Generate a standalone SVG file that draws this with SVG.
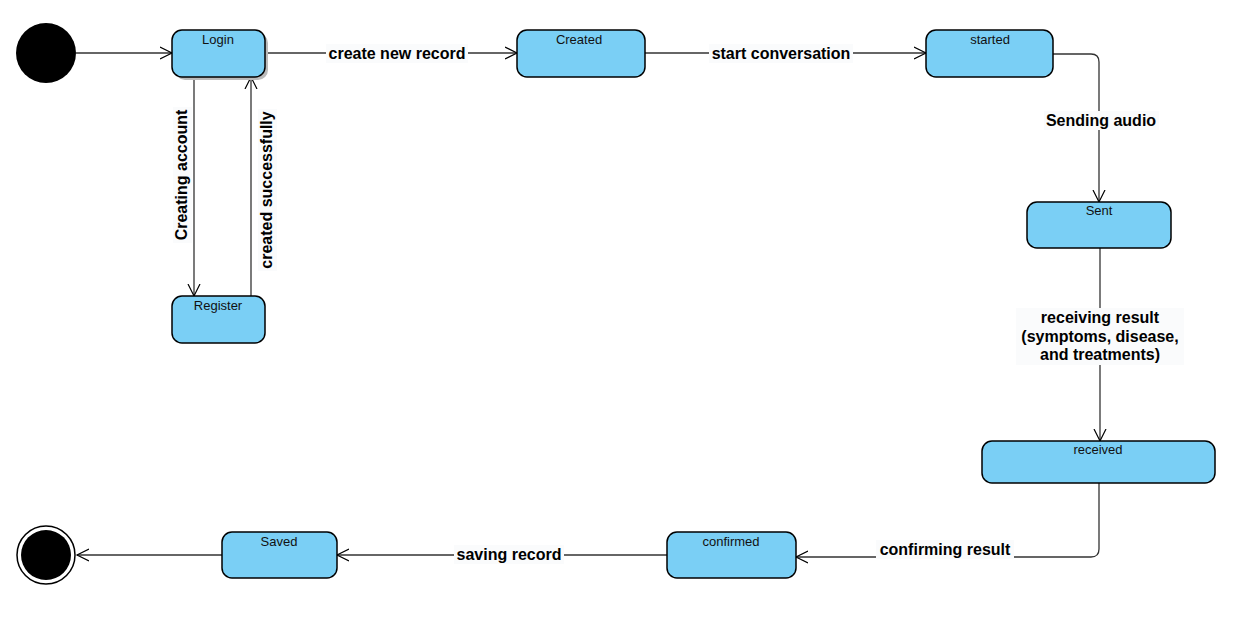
<svg xmlns="http://www.w3.org/2000/svg" width="1235" height="622" viewBox="0 0 1235 622">
<defs>
<marker id="arr" markerWidth="14" markerHeight="14" refX="12" refY="7" orient="auto" markerUnits="userSpaceOnUse">
<path d="M0,1 L12,7 L0,13" fill="none" stroke="#000" stroke-width="1.2"/>
</marker>
</defs>
<style>
.node{fill:#7acff5;stroke:#000;stroke-width:1.5}
.shadow{fill:#bbb}
.nt{font-family:"Liberation Sans",Arial,sans-serif;font-size:13px;fill:#111;text-anchor:middle}
.edge{fill:none;stroke:#333;stroke-width:1.3;marker-end:url(#arr)}
.lbl{font-family:"Liberation Sans",Arial,sans-serif;font-size:16px;font-weight:bold;fill:#000;text-anchor:middle}
.lbg{fill:#fafbfc}
</style>
<rect width="1235" height="622" fill="#fff"/>
<g id="connectors">
<path class="edge" d="M76,53 L172,53"/>
<path class="edge" d="M265,53 L517,53"/>
<path class="edge" d="M645,53 L926,53"/>
<path class="edge" d="M1053,54 L1091,54 Q1099,54 1099,62 L1099,202"/>
<path class="edge" d="M1100,248 L1100,441"/>
<path class="edge" d="M1099,483 L1099,549 Q1099,557 1091,557 L796,557"/>
<path class="edge" d="M667,555 L337,555"/>
<path class="edge" d="M222,555 L77,555"/>
<path class="edge" d="M194,77 L194,296"/>
<path class="edge" d="M251,296 L251,77"/>
<rect class="lbg" x="326" y="44" width="142" height="19"/>
<text class="lbl" x="397" y="59">create new record</text>
<rect class="lbg" x="709" y="44" width="144" height="19"/>
<text class="lbl" x="781" y="59">start conversation</text>
<rect class="lbg" x="1044" y="111" width="115" height="19"/>
<text class="lbl" x="1101" y="126">Sending audio</text>
<rect class="lbg" x="1016" y="308" width="168" height="57"/>
<text class="lbl" x="1100" y="323">receiving result</text>
<text class="lbl" x="1100" y="342">(symptoms, disease,</text>
<text class="lbl" x="1100" y="360">and treatments)</text>
<rect class="lbg" x="876" y="540" width="138" height="19"/>
<text class="lbl" x="945" y="555">confirming result</text>
<rect class="lbg" x="454" y="545" width="110" height="19"/>
<text class="lbl" x="509" y="560">saving record</text>
<rect class="lbg" x="173" y="107" width="19" height="136"/>
<text class="lbl" transform="translate(187,175) rotate(-90)">Creating account</text>
<rect class="lbg" x="258" y="109" width="19" height="162"/>
<text class="lbl" transform="translate(272,190) rotate(-90)">created successfully</text>
</g>
<g id="start"><circle cx="46" cy="53" r="30" fill="#000"/></g>
<g id="login">
<rect class="shadow" x="175" y="33" width="93" height="47" rx="10"/>
<rect class="node" x="172" y="30" width="93" height="47" rx="10"/>
<text class="nt" x="218" y="44">Login</text>
</g>
<g id="created">
<rect class="node" x="517" y="30" width="128" height="47" rx="10"/>
<text class="nt" x="579" y="44">Created</text>
</g>
<g id="started">
<rect class="node" x="926" y="30" width="127" height="47" rx="10"/>
<text class="nt" x="990" y="44">started</text>
</g>
<g id="sent">
<rect class="node" x="1027" y="202" width="144" height="46" rx="10"/>
<text class="nt" x="1099" y="215">Sent</text>
</g>
<g id="received">
<rect class="node" x="982" y="441" width="233" height="42" rx="10"/>
<text class="nt" x="1098" y="454">received</text>
</g>
<g id="confirmed">
<rect class="node" x="667" y="532" width="129" height="46" rx="10"/>
<text class="nt" x="731" y="546">confirmed</text>
</g>
<g id="saved">
<rect class="node" x="222" y="532" width="115" height="46" rx="10"/>
<text class="nt" x="279" y="546">Saved</text>
</g>
<g id="register">
<rect class="node" x="172" y="296" width="93" height="47" rx="10"/>
<text class="nt" x="218" y="310">Register</text>
</g>
<g id="end">
<circle cx="46" cy="555" r="29" fill="#fff" stroke="#000" stroke-width="1.5"/>
<circle cx="46" cy="555" r="25" fill="#000"/>
</g>
</svg>
